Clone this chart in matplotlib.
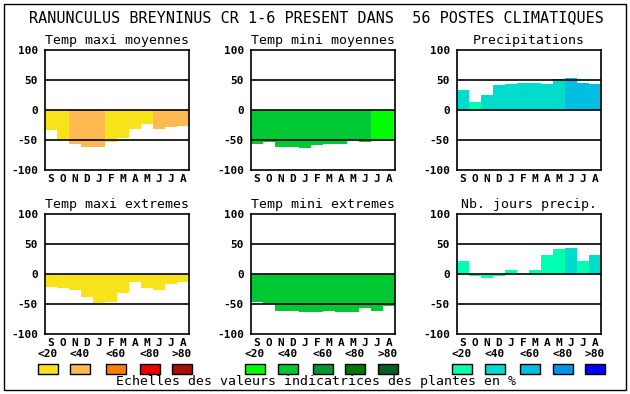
import numpy as np
import matplotlib
matplotlib.use("Agg")
import matplotlib.pyplot as plt
from matplotlib.patches import Rectangle

# data
months = ['S', 'O', 'N', 'D', 'J', 'F', 'M', 'A', 'M', 'J', 'J', 'A']

tmax_moy = [-33, -50, -57, -62, -62, -54, -47, -32, -23, -32, -28, -26]
tmax_moy_cls = [0, 0, 1, 1, 1, 0, 0, 0, 0, 1, 1, 1]
tmin_moy = [-56, -54, -61, -61, -63, -58, -56, -56, -48, -54, -48, -48]
tmin_moy_cls = [1, 1, 1, 1, 1, 1, 1, 1, 1, 1, 0, 0]
precip = [33, 13, 25, 42, 43, 45, 45, 43, 52, 53, 45, 43]
precip_cls = [1, 0, 1, 1, 1, 1, 1, 1, 1, 2, 2, 2]
tmax_ext = [-21, -24, -26, -38, -49, -46, -31, -14, -23, -26, -16, -13]
tmax_ext_cls = [0] * 12
tmin_ext = [-46, -50, -61, -61, -64, -63, -61, -64, -63, -56, -61, -53]
tmin_ext_cls = [1] * 12
jours = [22, -3, -6, -4, 6, 0, 7, 31, 41, 44, 21, 31]
jours_cls = [0, 0, 0, 0, 0, 0, 0, 0, 0, 1, 0, 1]

scale_labels = ['<20', '<40', '<60', '<80', '>80']
warm = ['#f8e21a', '#ffb951', '#ff8000', '#ec0000', '#aa1000']
green = ['#00ff00', '#00c832', '#009632', '#007800', '#005f20']
blue = ['#00ffb0', '#00dccb', '#00bee0', '#0096e6', '#0000ff']

title = "RANUNCULUS BREYNINUS CR 1-6 PRESENT DANS  56 POSTES CLIMATIQUES"
footer = "Echelles des valeurs indicatrices des plantes en %"

W, H = 630, 394
mono = 'DejaVu Sans Mono'

fig = plt.figure(figsize=(W / 100, H / 100), dpi=100)
fig.patch.set_facecolor('white')


def add_ax(left, top, w=144, h=120):
    return fig.add_axes([left / W, 1 - (top + h) / H, w / W, h / H])


panels = [
    (45, 50, 'Temp maxi moyennes', tmax_moy, tmax_moy_cls, warm),
    (251, 50, 'Temp mini moyennes', tmin_moy, tmin_moy_cls, green),
    (457, 50, 'Precipitations', precip, precip_cls, blue),
    (45, 214, 'Temp maxi extremes', tmax_ext, tmax_ext_cls, warm),
    (251, 214, 'Temp mini extremes', tmin_ext, tmin_ext_cls, green),
    (457, 214, 'Nb. jours precip.', jours, jours_cls, blue),
]

x = np.arange(12)
for left, top, name, vals, cls, pal in panels:
    ax = add_ax(left, top)
    ax.bar(x, vals, width=1.0, color=[pal[c] for c in cls],
           edgecolor='none', zorder=2)
    for yv in (50, 0, -50):
        ax.axhline(yv, color='black', lw=1.2, zorder=3)
    ax.set_xlim(-0.5, 11.5)
    ax.set_ylim(-100, 100)
    ax.set_yticks([100, 50, 0, -50, -100])
    ax.set_yticklabels(['100', '50', '0', '-50', '-100'],
                       family=mono, weight='bold', fontsize=8)
    ax.set_xticks(x)
    ax.set_xticklabels(months, family=mono, weight='bold', fontsize=8)
    ax.tick_params(length=0, pad=5)
    ax.tick_params(axis='x', pad=3)
    for s in ax.spines.values():
        s.set_linewidth(1.2)
        s.set_zorder(4)
    ax.set_title(name, family=mono, fontsize=9.5, pad=4)

fig.text(316 / W, 1 - 18 / H, title, family=mono, fontsize=10.9,
         ha='center', va='center')

# legend swatches and labels
swatch_x = [[38, 70, 106, 140, 172],
            [245, 278, 313, 345, 378],
            [452, 485, 520, 553, 585]]
for xs, pal in zip(swatch_x, [warm, green, blue]):
    for sx, col, lab in zip(xs, pal, scale_labels):
        fig.patches.append(Rectangle((sx / W, 1 - 374 / H), 20 / W, 10 / H,
                                     transform=fig.transFigure,
                                     facecolor=col, edgecolor='black', lw=1))
        fig.text((sx + 10) / W, 1 - 354 / H, lab, family=mono,
                 weight='bold', fontsize=8, ha='center', va='center')

fig.text(316 / W, 1 - 382 / H, footer, family=mono, fontsize=9.5,
         ha='center', va='center')

# outer frame
fig.patches.append(Rectangle((4 / W, 1 - 390 / H), 622 / W, 386 / H,
                             transform=fig.transFigure, fill=False,
                             edgecolor='black', lw=1))

fig.savefig('out.png', dpi=100)
